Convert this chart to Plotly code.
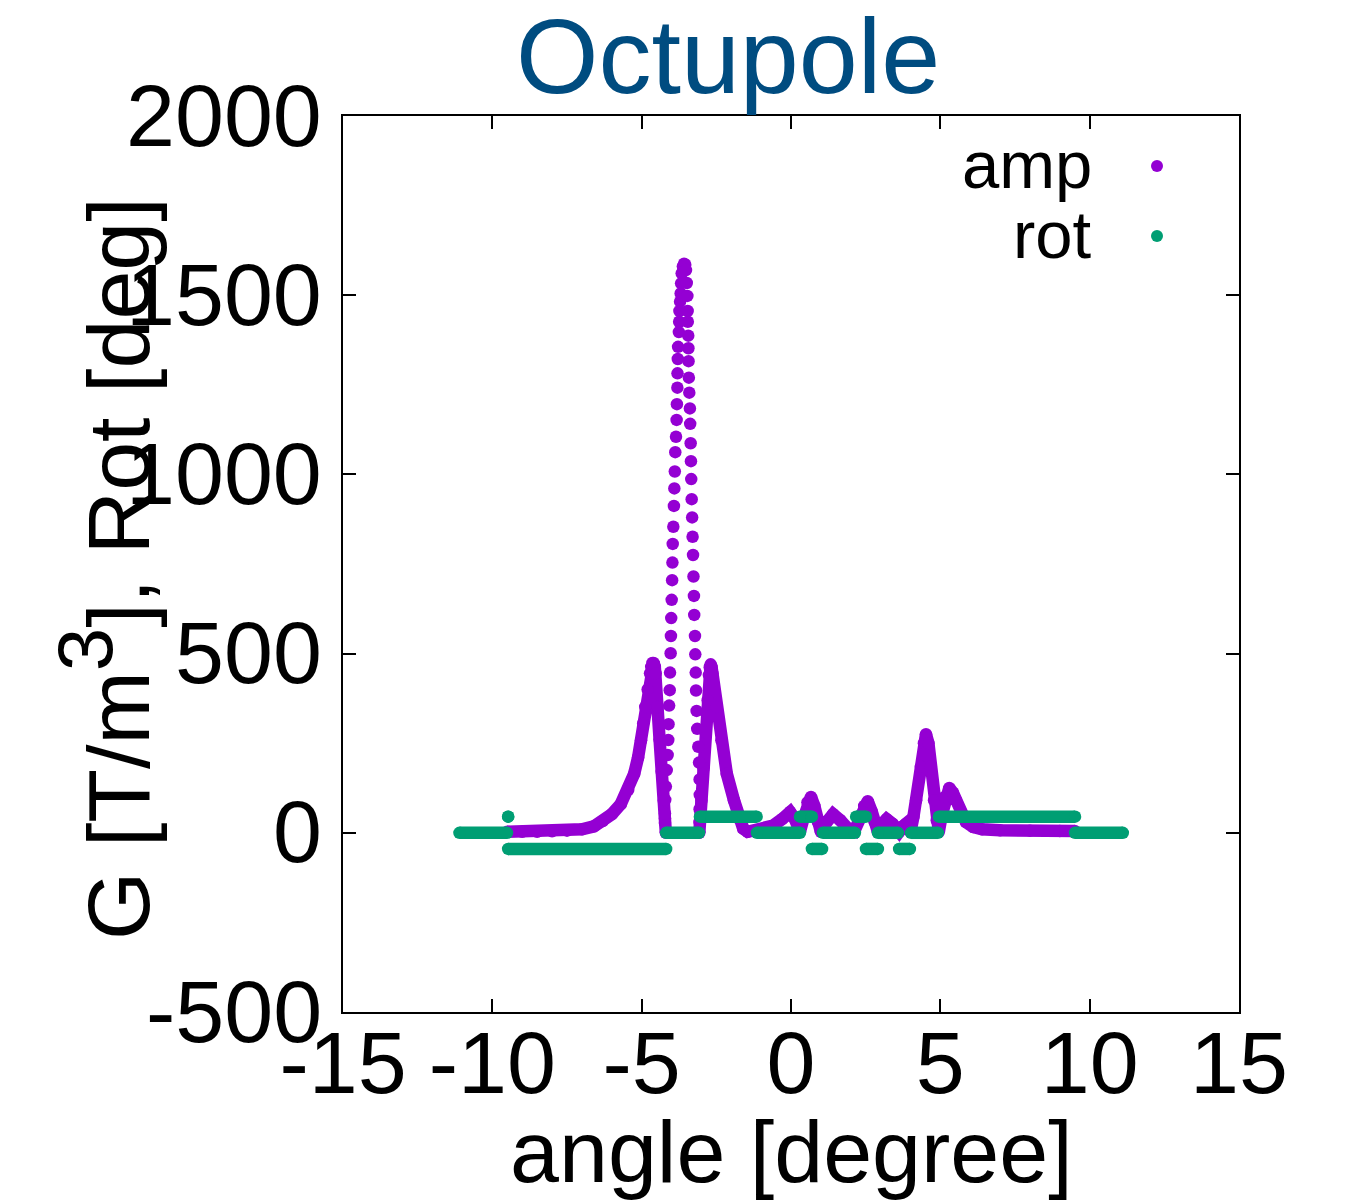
import plotly.graph_objects as go

# ---------------- data ----------------
# amp, left smooth part (deg, T/m^3)
amp_left_angle = [-9.5, -9.0, -8.5, -8.0, -7.5, -7.0, -6.6, -6.3, -6.0, -5.7, -5.45, -5.25, -5.12,
                  -5.02, -4.95, -4.88, -4.80, -4.72, -4.68, -4.64, -4.60, -4.56, -4.53, -4.47,
                  -4.40, -4.33, -4.26, -4.22, -4.19]
amp_left = [3, 3, 3, 4, 6, 10, 18, 33, 52, 80, 120, 165, 210,
            258, 305, 351, 400, 445, 463, 474, 474, 463, 445, 351,
            260, 170, 90, 40, 0]

# amp, central spike (individual sample points visible)
spike_angle = [-4.22, -4.22, -4.21, -4.19, -4.16, -4.13, -4.11, -4.10, -4.08, -4.06, -4.05, -4.03,
               -4.02, -4.01, -3.995, -3.98, -3.97, -3.96, -3.94, -3.92, -3.905, -3.89, -3.875,
               -3.85, -3.83, -3.82, -3.805, -3.80, -3.79, -3.78, -3.755, -3.745, -3.735, -3.715,
               -3.695, -3.68, -3.66, -3.62, -3.58,
               -3.54, -3.515, -3.49, -3.47, -3.46, -3.455, -3.44, -3.435, -3.43, -3.42, -3.405,
               -3.385, -3.375, -3.36, -3.35, -3.34, -3.325, -3.31, -3.295, -3.28, -3.265, -3.25,
               -3.24, -3.215, -3.205, -3.19, -3.18, -3.16, -3.14, -3.105, -3.08, -3.06, -3.055,
               -3.06, -3.065]
spike_amp = [27, 54, 92, 129, 175, 217, 259, 303, 355, 398, 447, 501,
             549, 599, 650, 705, 754, 806, 854, 912, 961, 1008, 1062,
             1105, 1152, 1196, 1242, 1282, 1322, 1356, 1397, 1426, 1456, 1482,
             1505, 1533, 1561, 1580, 1588,
             1585, 1570, 1534, 1498, 1456, 1426, 1387, 1352, 1316, 1270, 1228,
             1184, 1141, 1087, 1037, 987, 931, 880, 826, 775, 715, 661,
             608, 549, 498, 447, 397, 340, 290, 240, 196, 149, 106,
             66, 30]

# amp, right smooth part
amp_right_angle = [-3.07, -3.00, -2.93, -2.86, -2.79, -2.75, -2.72, -2.69, -2.66, -2.63, -2.49, -2.33,
                   -2.15, -1.91, -1.75, -1.60, -1.45, -1.2, -0.9, -0.6, -0.3, -0.03, 0.12, 0.30,
                   0.42, 0.55, 0.67, 0.78, 0.90, 1.0, 1.15, 1.41, 1.65, 1.9, 2.12, 2.32, 2.45,
                   2.57, 2.70, 2.80, 2.91, 3.05, 3.2, 3.4, 3.62, 3.75, 3.85, 3.92, 4.0, 4.1,
                   4.19, 4.35, 4.45, 4.52, 4.60, 4.68, 4.79, 4.88, 4.95, 5.05, 5.15, 5.30, 5.42,
                   5.52, 5.70, 5.86, 6.1, 6.4, 7.0, 8.0, 9.0, 9.5]
amp_right = [0, 90, 180, 280, 370, 440, 462, 470, 462, 445, 351, 258,
             165, 91, 40, 12, 3, 6, 12, 20, 38, 58, 40, 3,
             40, 85, 100, 75, 30, 3, 25, 52, 35, 12, 5, 40, 75,
             88, 60, 30, 3, 25, 38, 25, 3, 18, 25, 15, 3, 45,
             91, 184, 250, 275, 250, 184, 91, 35, 3, 50, 100, 125, 112,
             91, 55, 30, 16, 10, 7, 6, 5, 5]

# rot: piecewise constant segments (deg)
rot_start = [-11.1, -9.47, -9.47, -4.18, -3.05, -1.14, 0.30, 0.70, 1.07, 2.18, 2.51, 2.91, 3.62, 4.02, 4.95, 9.51]
rot_end = [-9.51, -9.47, -4.18, -3.08, -1.15, 0.30, 0.70, 1.04, 2.14, 2.51, 2.91, 3.58, 3.98, 4.92, 9.51, 11.11]
rot_value = [0, 45, -45, 0, 45, 0, 45, -45, 0, 45, -45, 0, -45, 0, 45, 0]

x_ticks = [-15, -10, -5, 0, 5, 10, 15]
y_ticks = [-500, 0, 500, 1000, 1500, 2000]

series_names = ["amp", "rot"]
title_text = "Octupole"
x_title = "angle [degree]"
y_title = "G [T/m<sup><span style='font-size:78px'>3</span></sup>], Rot [deg]"

# ---------------- styling ----------------
PURPLE = "#9400D3"
GREEN = "#009E73"
FONT = "Liberation Sans, Arial, Helvetica, sans-serif"
MS = 12.5

W, H = 1358, 1203
L, R, T, B = 343, 119, 116, 191
PW, PH = W - L - R, H - T - B


def px_x(p):
    return (p - L) / PW


def px_y(p):
    return (H - B - p) / PH


fig = go.Figure()

fig.add_trace(go.Scatter(x=amp_left_angle, y=amp_left, mode="lines+markers",
                         line=dict(color=PURPLE, width=MS), marker=dict(color=PURPLE, size=MS),
                         showlegend=False, hoverinfo="skip"))
fig.add_trace(go.Scatter(x=amp_right_angle, y=amp_right, mode="lines+markers",
                         line=dict(color=PURPLE, width=MS), marker=dict(color=PURPLE, size=MS),
                         showlegend=False, hoverinfo="skip"))
fig.add_trace(go.Scatter(x=spike_angle, y=spike_amp, mode="markers",
                         marker=dict(color=PURPLE, size=MS), showlegend=False, hoverinfo="skip"))

rx, ry = [], []
for s, e, v in zip(rot_start, rot_end, rot_value):
    rx += [s, e, None]
    ry += [v, v, None]
fig.add_trace(go.Scatter(x=rx, y=ry, mode="lines+markers", connectgaps=False,
                         line=dict(color=GREEN, width=MS), marker=dict(color=GREEN, size=MS),
                         showlegend=False, hoverinfo="skip"))

axis_common = dict(showline=True, linecolor="black", linewidth=2, mirror="ticks",
                   ticks="inside", ticklen=13, tickwidth=2, tickcolor="black",
                   showgrid=False, zeroline=False,
                   tickfont=dict(family=FONT, size=88, color="black"))

fig.update_xaxes(range=[-15, 15], tickvals=x_ticks, ticktext=[str(v) for v in x_ticks],
                 ticklabelstandoff=-27, **axis_common)
fig.update_yaxes(range=[-500, 2000], tickvals=y_ticks, showticklabels=False, **axis_common)

annotations = [
    dict(text=title_text, x=px_x(728), y=px_y(56), xref="paper", yref="paper",
         xanchor="center", yanchor="middle", showarrow=False,
         font=dict(family=FONT, size=106, color="#004C80")),
    dict(text=x_title, x=px_x(791), y=px_y(1151), xref="paper", yref="paper",
         xanchor="center", yanchor="middle", showarrow=False,
         font=dict(family=FONT, size=88, color="black")),
    dict(text=y_title, x=px_x(104), y=px_y(569), xref="paper", yref="paper",
         xanchor="center", yanchor="middle", showarrow=False, textangle=-90,
         font=dict(family=FONT, size=88, color="black")),
]
# y tick labels, placed at the tick values through the y scale
for v in y_ticks:
    annotations.append(dict(text=str(v), x=0, xref="paper", xanchor="right", xshift=-19,
                            y=v, yref="y", yanchor="middle", yshift=1, showarrow=False,
                            font=dict(family=FONT, size=88, color="black")))

legend_rows = [(series_names[0], PURPLE, 166), (series_names[1], GREEN, 236)]
shapes = []
for name, col, yc in legend_rows:
    annotations.append(dict(text=name, x=px_x(1094), y=px_y(yc - 2), xref="paper", yref="paper",
                            xanchor="right", yanchor="middle", showarrow=False,
                            font=dict(family=FONT, size=67, color="black")))
    shapes.append(dict(type="circle", xref="paper", yref="paper",
                       xsizemode="pixel", ysizemode="pixel",
                       xanchor=px_x(1157), yanchor=px_y(yc),
                       x0=-6, x1=6, y0=-6, y1=6,
                       fillcolor=col, line=dict(width=0)))

fig.update_layout(width=W, height=H, margin=dict(l=L, r=R, t=T, b=B, autoexpand=False),
                  paper_bgcolor="white", plot_bgcolor="white",
                  annotations=annotations, shapes=shapes, showlegend=False)

fig.write_html("out.html", config={"displayModeBar": False},
               post_script="document.body.style.margin='0';")
